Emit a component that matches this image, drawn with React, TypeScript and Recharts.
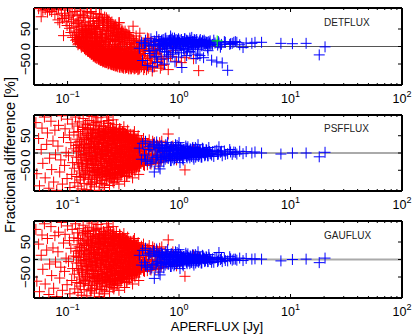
import React from "react";
import { ScatterChart, Scatter, XAxis, YAxis, ReferenceLine } from "recharts";

const redFlux = [
.052,.053,.055,.056,.058,.059,.06,.062,.063,.065,
.066,.068,.069,.071,.072,.074,.075,.077,.078,.08,
.082,.083,.085,.087,.088,.09,.092,.094,.095,.097,
.099,.1,.102,.104,.105,.107,.109,.11,.111,.113,
.114,.115,.116,.118,.119,.12,.121,.122,.123,.124,
.125,.126,.127,.128,.129,.13,.131,.132,.133,.134,
.135,.136,.137,.138,.139,.14,.141,.142,.143,.144,
.145,.146,.147,.148,.149,.15,.151,.152,.153,.154,
.155,.156,.157,.158,.159,.16,.161,.162,.163,.164,
.165,.166,.167,.168,.169,.17,.171,.172,.173,.174,
.175,.176,.177,.178,.179,.18,.182,.183,.184,.185,
.186,.187,.188,.19,.191,.192,.193,.195,.196,.197,
.198,.2,.201,.202,.204,.205,.206,.208,.209,.21,
.212,.213,.215,.216,.218,.219,.22,.222,.224,.225,
.227,.228,.23,.232,.233,.235,.237,.238,.24,.242,
.243,.245,.247,.249,.25,.252,.254,.256,.258,.26,
.262,.264,.266,.268,.27,.272,.274,.276,.278,.28,
.282,.285,.287,.289,.292,.294,.296,.299,.301,.304,
.306,.309,.312,.314,.317,.32,.322,.325,.328,.331,
.334,.337,.34,.343,.346,.349,.352,.356,.359,.362,
.365,.369,.372,.376,.379,.383,.387,.39,.394,.398,
.402,.406,.41,.415,.42,.425,.43,.435,.44,.445,
.45,.46,.47,.48,.49,.5,.51,.52,.535,.55,
.56,.575,.59,.6,.62,.64,.66,.68,.7,.72,
.75,.78,.8,.84,.88,.95,1.05,1.13,1.35,1.5];

const redDet = [
140,125,108,150,85,118,102,130,106,160,
98,122,104,135,100,112,145,92,128,105,
76,110,68,120,95,80,31,88,104,72,
60,108,84,52,90,40,70,96,26,78,
55,32,100,18,66,44,25,88,14,58,
8,36,74,22,48,12,92,30,6,62,
18,40,2,82,26,10,52,-4,34,68,
14,-8,44,24,6,96,-12,30,58,0,
18,-14,38,10,-6,72,26,-18,4,48,
-10,16,-22,34,0,84,-16,8,56,-26,
22,-12,-28,42,2,-20,12,66,-32,-6,
28,-24,-2,-34,14,50,-16,-36,6,-28,
36,-8,-38,-20,18,-40,78,-12,-30,2,
-42,24,-22,-4,-44,10,-34,-14,44,-46,
-26,60,-8,-40,16,-48,-18,-32,0,-44,
30,-24,-50,-12,-38,6,-46,-28,52,-20,
-52,-6,-36,-48,14,-30,-54,-16,34,-42,
-24,-50,-10,68,-38,-56,-28,2,-46,-34,
-18,-58,24,-42,-30,-52,-8,-36,44,-56,
-22,-48,-60,10,-34,-44,-14,-54,30,-38,
-58,-26,-62,-4,-46,-32,58,-52,-18,-42,
-62,-28,-50,16,-36,-56,-8,-44,-64,38,
-24,-52,-34,4,-60,-14,-66,-40,22,-48,
-30,-70,-10,-58,-22,-44,6,-62,-36,-52,
8,-34,-66,-28,-12,-42,-46,-32,-35,-69];

const redPsf = [
88,-60,42,-95,10,72,-30,104,-72,25,
58,-102,-15,92,-48,35,-84,66,-5,-108,
20,80,-55,-20,108,-90,45,-36,70,2,
-74,98,-8,52,-100,30,-62,84,-28,12,
60,-44,-86,104,22,-12,-68,40,78,-96,
4,-34,90,-52,16,-78,52,-6,-104,32,
-20,68,-40,100,8,-64,-88,24,56,-14,
84,-50,-2,38,-106,14,-30,72,-72,46,
-24,94,6,-58,28,-92,60,-10,-42,20,
106,-76,-18,44,2,-52,80,-34,12,-98,
34,-66,64,-6,-26,88,-84,18,-46,50,
-12,102,-56,26,-36,-108,70,4,-70,40,
-20,92,-44,14,-88,54,-4,-62,30,78,
-30,-100,48,8,-52,66,-16,-78,22,104,
-38,10,-64,58,-8,86,-24,-94,36,-48,
74,0,-32,44,-72,16,-56,96,-12,-86,
28,-40,62,-20,-60,6,82,-28,-76,38,
-4,52,-46,-90,20,70,-34,-14,-66,42,
12,-54,60,-22,-38,76,2,-82,30,-10,
48,-44,-68,18,66,-26,-6,-58,36,-16,
54,-34,8,-48,26,-72,44,-12,-30,62,
-52,14,-20,38,-40,4,50,-62,-8,24,
-28,32,-14,42,-36,8,-22,26,-4,18,
-32,12,-18,30,-6,22,-26,4,34,-12,
16,-14,55,-10,20,-20,6,-49,10,4];

const redGau = [
86,-62,44,-92,12,70,-28,102,-70,27,
60,-100,-13,94,-46,33,-82,68,-7,-106,
22,78,-53,-22,106,-88,47,-34,72,4,
-72,96,-6,54,-98,32,-60,86,-26,10,
62,-42,-84,102,24,-10,-66,42,76,-94,
6,-32,88,-50,18,-76,54,-4,-102,34,
-18,70,-38,98,10,-62,-86,26,58,-12,
82,-48,0,40,-104,16,-28,74,-70,48,
-22,92,8,-56,30,-90,62,-8,-40,22,
104,-74,-16,46,4,-50,82,-32,14,-96,
36,-64,66,-4,-24,86,-82,20,-44,52,
-10,100,-54,28,-34,-106,72,6,-68,42,
-18,90,-42,16,-86,56,-2,-60,32,80,
-28,-98,50,10,-50,68,-14,-76,24,102,
-36,12,-62,60,-6,84,-22,-92,38,-46,
76,2,-30,46,-70,18,-54,94,-10,-84,
30,-38,64,-18,-58,8,80,-26,-74,40,
-2,54,-44,-88,22,68,-32,-12,-64,44,
14,-52,62,-20,-36,74,4,-80,32,-8,
50,-42,-66,20,64,-24,-4,-56,38,-14,
52,-32,10,-46,28,-70,46,-10,-28,60,
-50,16,-18,40,-38,6,48,-60,-6,26,
-26,34,-12,44,-34,10,-20,28,-2,20,
-30,14,-16,32,-4,24,-24,6,36,-10,
18,-12,56,-8,22,-18,8,-48,12,6];

const coreFlux = [
.121,.124,.127,.13,.133,.135,.138,.14,.142,.144,
.146,.148,.15,.152,.154,.156,.158,.16,.162,.164,
.165,.167,.169,.171,.173,.175,.176,.178,.18,.181,
.183,.185,.186,.188,.19,.191,.193,.195,.196,.198,
.2,.201,.203,.205,.206,.208,.21,.211,.213,.215,
.216,.218,.22,.221,.223,.225,.226,.228,.23,.232,
.233,.235,.237,.239,.241,.242,.244,.246,.248,.25,
.252,.254,.255,.257,.259,.261,.263,.265,.267,.269,
.271,.273,.275,.277,.279,.281,.283,.285,.287,.29,
.292,.294,.296,.298,.3,.303,.305,.307,.309,.312,
.314,.316,.318,.321,.323,.325,.328,.33,.333,.335,
.338,.34,.343,.345,.348,.35,.353,.355,.358,.36,
.363,.366,.368,.371,.374,.377,.38,.382,.385,.388,
.391,.394,.397,.4,.403,.406,.409,.412,.415,.418,
.421,.425,.428,.431,.434,.438,.441,.445,.448,.452,
.128,.134,.141,.147,.151,.155,.159,.163,.166,.17,
.174,.177,.179,.182,.184,.187,.189,.192,.194,.197,
.199,.202,.204,.207,.209,.212,.214,.217,.219,.222,
.224,.227,.229,.231,.234,.236,.238,.24,.243,.245,
.247,.249,.251,.253,.256,.258,.26,.262,.264,.266,
.268,.27,.272,.274,.276,.278,.28,.282,.284,.286,
.288,.291,.293,.295,.297,.299,.301,.304,.306,.308,
.31,.313,.315,.317,.32,.322,.324,.327,.329,.332,
.334,.337,.339,.342,.344,.347,.349,.352,.354,.357,
.359,.362,.365,.367,.37,.373,.376,.379,.381,.384,
.387,.39,.393,.396,.399,.402,.405,.408,.411,.414,
.417,.42,.423,.427,.43,.433,.436,.44,.443,.447,
.455,.46,.468,.475,.482,.49,.5,.51,.52,.53,
.54,.55,.56,.57,.58,.6,.62,.64,.66,.7,
.125,.13,.135,.14,.145,.15,.155,.16,.165,.17,
.175,.18,.185,.19,.195,.2,.205,.21,.215,.22,
.225,.23,.235,.24,.245,.25,.255,.26,.265,.27,
.275,.28,.285,.29,.295,.3,.31,.32,.33,.34,
.35,.36,.37,.38,.39,.4,.42,.44,.46,.48,
.14,.152,.163,.172,.183,.193,.203,.213,.223,.233,
.243,.253,.263,.273,.283,.293,.305,.315,.325,.335,
.5,.52,.54,.56,.58,.61,.63,.65,.67,.69];

const coreDet = [
20,5,35,12,-2,28,45,8,-6,18,
-10,30,2,-14,50,14,-18,-4,38,-22,
6,-16,60,-26,-6,24,-30,10,-20,42,
-34,-10,2,-28,70,-36,16,-18,-38,-4,
30,-30,-40,-12,54,-24,-42,6,-34,-16,
-44,22,-6,-36,-46,14,-26,76,-40,-10,
-48,0,-30,-18,44,-50,-36,-8,-44,28,
-24,-52,-14,-40,-50,60,-32,-4,-54,-20,
-46,18,-36,-56,-26,-8,-50,36,-42,-16,
-58,-30,-48,-2,-38,-54,-20,48,-60,-44,
-12,-34,-56,-26,-50,24,-40,-62,-18,-46,
-30,-58,-6,-42,-52,-22,-62,40,-36,-48,
-16,-56,-28,-64,-44,12,-34,-52,-24,-60,
-40,-8,-54,-30,-62,-20,-48,30,-38,-58,
-14,-44,-66,-26,-52,-36,4,-60,-20,-46,
10,26,-2,42,16,-12,60,-22,2,-28,
34,-14,-32,8,50,-24,-36,-6,84,-40,
-20,18,-38,-44,-8,62,-30,-46,12,-26,
38,-42,-14,-50,72,-34,-6,-46,20,-28,
-52,-10,56,-38,-22,-54,4,-44,-30,32,
-56,-16,-40,52,-50,-26,-4,-58,-34,14,
-46,68,-22,-60,-38,-8,-52,26,-30,-56,
-18,44,-42,-62,-28,-50,6,-36,-58,-24,
-44,-12,-60,34,-32,-54,-20,-46,-64,18,
-38,-26,-56,-4,-48,-62,-16,-42,-30,-58,
22,-50,-34,-64,-10,-44,-56,-24,-38,8,
-60,-28,-46,-14,-64,-36,-52,18,-22,-42,
-30,-58,-10,-44,-66,-20,-50,4,-34,-62,
-26,-48,12,-36,-60,-16,-44,-6,-30,-54,
70,104,58,88,46,100,64,96,38,80,
56,94,30,72,48,90,26,68,84,42,
60,36,76,22,54,70,32,48,18,62,
40,28,52,14,44,34,8,38,26,16,
30,6,24,-2,18,10,-4,14,6,-10,
84,40,100,52,74,92,34,60,82,46,
66,24,56,38,50,20,42,30,12,36,
2,24,-6,12,-14,6,-20,16,-8,-28];

const corePsf = [
6,-28,34,-12,20,-38,44,-4,28,-46,
12,-22,50,-34,38,2,-52,24,-16,42,
-8,56,-42,18,-30,32,-56,8,46,-20,
26,-48,14,-6,58,-36,40,-60,0,-24,
48,-14,30,-44,10,-54,36,-2,54,-30,
20,-62,4,42,-18,60,-40,28,-10,-50,
16,46,-26,-58,34,-6,56,-36,8,-46,
40,-16,24,-56,62,-28,2,44,-42,14,
-8,52,-34,30,-60,18,-20,48,-48,6,
36,-12,58,-40,22,-54,-2,42,-26,10,
-44,50,-18,32,-58,4,38,-32,16,-50,
54,-6,26,-38,44,-22,12,-52,34,-14,
0,46,-30,20,-48,38,-10,28,-42,8,
-20,36,-36,14,42,-28,4,-44,30,-12,
22,-34,38,-6,-26,18,-38,32,-16,10,
24,-30,-6,40,-44,16,-20,52,-54,34,
2,-36,46,-12,58,-50,26,-62,10,-24,
44,-4,-42,30,62,-16,-58,18,50,-32,
6,-52,38,-22,56,-8,-64,24,-40,48,
12,-28,60,-46,0,34,-18,-56,42,-10,
28,-60,52,-34,14,-4,-48,40,-24,58,
8,-42,22,-14,50,-54,32,-2,-36,46,
18,-26,-50,36,4,54,-40,-8,24,-18,
42,-32,10,-46,30,-12,48,-28,16,-4,
-38,26,6,-22,40,-44,14,-16,34,-30,
20,-8,-34,28,2,-24,36,-14,12,-40,
30,-20,8,-30,22,-6,-26,16,-12,26,
4,-18,28,-10,14,-24,20,-2,-16,24,
-8,18,-20,6,22,-14,10,-4,16,-10,
62,-70,-58,74,-62,82,-76,64,-84,68,
-66,90,-72,60,-88,76,-64,70,-92,62,
-78,86,-60,66,-74,58,-82,72,-66,-56,
64,-70,54,-60,68,-58,62,-52,56,-64,
50,-56,46,-48,52,-44,42,-38,36,-34,
-70,72,-90,84,-64,66,-80,78,-68,94,
-60,68,-72,64,-62,70,-58,60,-66,52,
30,-34,38,-26,34,-30,24,-28,30,-22];

const coreGau = [
8,-26,36,-10,22,-36,46,-2,30,-44,
14,-20,52,-32,40,4,-50,26,-14,44,
-6,58,-40,20,-28,34,-54,10,48,-18,
28,-46,16,-4,60,-34,42,-58,2,-22,
50,-12,32,-42,12,-52,38,0,56,-28,
22,-60,6,44,-16,62,-38,30,-8,-48,
18,48,-24,-56,36,-4,58,-34,10,-44,
42,-14,26,-54,64,-26,4,46,-40,16,
-6,54,-32,32,-58,20,-18,50,-46,8,
38,-10,60,-38,24,-52,0,44,-24,12,
-42,52,-16,34,-56,6,40,-30,18,-48,
56,-4,28,-36,46,-20,14,-50,36,-12,
2,48,-28,22,-46,40,-8,30,-40,10,
-18,38,-34,16,44,-26,6,-42,32,-10,
24,-32,40,-4,-24,20,-36,34,-14,12,
26,-28,-4,42,-42,18,-18,54,-52,36,
4,-34,48,-10,60,-48,28,-60,12,-22,
46,-2,-40,32,64,-14,-56,20,52,-30,
8,-50,40,-20,58,-6,-62,26,-38,50,
14,-26,62,-44,2,36,-16,-54,44,-8,
30,-58,54,-32,16,-2,-46,42,-22,60,
10,-40,24,-12,52,-52,34,0,-34,48,
20,-24,-48,38,6,56,-38,-6,26,-16,
44,-30,12,-44,32,-10,50,-26,18,-2,
-36,28,8,-20,42,-42,16,-14,36,-28,
22,-6,-32,30,4,-22,38,-12,14,-38,
32,-18,10,-28,24,-4,-24,18,-10,28,
6,-16,30,-8,16,-22,22,0,-14,26,
-6,20,-18,8,24,-12,12,-2,18,-8,
60,-68,-56,76,-60,80,-74,66,-82,70,
-64,88,-70,62,-86,74,-62,72,-90,64,
-76,84,-58,68,-72,60,-80,74,-64,-54,
66,-68,56,-58,70,-56,64,-50,58,-62,
52,-54,48,-46,54,-42,44,-36,38,-32,
-68,74,-88,82,-62,68,-78,76,-66,92,
-58,70,-70,66,-60,72,-56,62,-64,54,
32,-32,40,-24,36,-28,26,-26,32,-20];

const blueFlux = [
.44,.46,.47,.49,.5,.52,.53,.55,.56,.58,
.59,.6,.61,.62,.63,.64,.65,.66,.676,.69,
.7,.71,.73,.74,.76,.77,.79,.8,.82,.84,
.85,.87,.89,.9,.92,.94,.96,.98,1.0,1.02,
1.04,1.06,1.08,1.1,1.12,1.15,1.17,1.2,1.22,1.25,
1.27,1.3,1.33,1.36,1.39,1.42,1.45,1.48,1.52,1.55,
1.58,1.62,1.66,1.7,1.75,1.8,1.85,1.96,2.0,2.05,
2.18,2.22,2.28,2.35,2.44,2.55,2.73,2.85,3.0,3.1,
3.3,3.5,3.75,4.0,4.5,4.8,5.5,8.2,10.4,13.8,
18.1,20.4,
.66,.68,.7,.72,.74,.75,.77,.78,.8,.81,
.83,.85,.86,.88,.9,.91,.93,.95,.97,.99,
1.01,1.03,1.05,1.07,1.09,1.11,1.13,1.16,1.18,1.21,
1.23,1.26,1.28,1.31,1.34,1.37,1.4,1.43,1.46,1.5,
1.53,1.57,1.6,1.64,1.68,1.72,1.77,1.82,1.88,1.93,
.5,.54,.57,.6,.63,.67,.69,.72,.75,.78,
.82,.84,.87,.89,.92,.94,.97,.99,1.02,1.05,
1.08,1.1,1.14,1.17,1.19,1.22,1.25,1.29,1.32,1.35,
1.38,1.41,1.44,1.47,1.51,1.54,1.59,1.63,1.67,1.71,
1.76,1.81,1.86,1.9,2.1,2.25,2.4,2.6,2.9,3.2];

const blueDet = [
-5,12,-40,8,18,-54,2,-20,22,-58,
6,-30,14,-12,28,-46,4,20,-8,-36,
16,-2,10,-50,24,-16,6,-30,12,30,
2,-22,16,8,-44,20,-4,12,-10,18,
6,-60,14,-6,22,10,-26,16,4,-14,
12,26,-2,8,18,-34,14,-8,10,20,
4,16,-32,8,12,-4,14,-39,6,18,
-44,4,10,-2,-47,14,-68,6,9,12,
12,5,-3,10,9,12,12,9,8,9,
-24,-1,
14,2,18,8,-14,22,6,12,-24,16,
4,20,10,-18,14,24,-6,8,18,-30,
12,2,20,6,14,-10,22,8,16,0,
10,18,-16,6,14,20,4,12,-22,8,
16,10,2,14,18,6,12,-12,10,4,
10,-12,4,16,-28,8,14,20,2,-6,
18,10,24,-2,12,6,16,22,8,-18,
14,4,10,18,-8,12,24,6,14,-4,
16,8,20,2,12,-26,10,16,6,14,
8,12,4,16,10,14,6,12,8,14];

const bluePsf = [
14,-18,28,-6,34,-24,10,-30,20,-12,
26,-55,6,-20,32,-8,16,-38,-46,22,
-14,12,-26,4,24,-10,30,-16,8,-22,
18,-6,14,-20,10,-12,22,-4,30,-28,
-8,12,-16,6,-2,20,-10,18,4,-14,
10,-6,16,-18,2,12,-8,24,-4,8,
-12,14,2,-8,10,-2,16,-6,4,-10,
8,-4,18,2,-8,6,-2,10,-4,3,
-3,5,-2,4,0,3,0,-3,0,0,
-11,2,
12,-14,20,-6,8,-18,14,-2,16,-10,
6,-22,18,-4,10,-16,24,-8,2,12,
-12,16,-4,8,-20,10,0,14,-14,4,
-8,12,-6,10,-12,2,16,-4,6,-10,
8,-2,-12,12,2,-6,8,-8,4,-2,
-20,18,-26,24,-12,14,-18,6,-10,16,
-6,12,-14,8,-2,14,-10,18,-4,6,
-12,10,2,-8,12,-4,6,-10,14,-2,
8,-12,4,10,-6,2,-10,8,0,-4,
6,-8,4,-2,6,-3,5,-4,3,2];

const blueGau = [
12,-16,26,-8,32,-22,12,-28,18,-14,
24,-54,8,-18,30,-6,14,-36,-44,20,
-12,14,-24,2,22,-8,28,-14,6,-20,
16,-4,12,-18,8,-10,20,-6,28,-26,
-6,10,-14,8,0,18,-8,16,2,-12,
8,-4,14,-16,4,10,-6,22,-2,6,
-10,12,4,-6,8,0,14,-8,2,-8,
6,-6,20,0,-6,4,-4,8,-2,1,
-2,4,-3,3,1,2,1,-4,0,1,
-9,4,
10,-12,18,-8,6,-16,12,0,14,-12,
8,-20,16,-6,12,-14,22,-6,4,10,
-10,14,-2,6,-18,8,2,12,-12,6,
-6,10,-8,8,-10,4,14,-2,4,-8,
6,0,-10,10,4,-4,6,-6,2,0,
-18,16,-24,22,-10,12,-16,8,-8,14,
-4,10,-12,6,0,12,-8,16,-2,4,
-10,8,4,-6,10,-2,4,-8,12,0,
6,-10,2,8,-4,4,-8,6,2,-2,
4,-6,6,0,4,-2,3,-3,2,1];

const greenFlux = [2.2];
const greenDet = [16];

const panelNames = ["DETFLUX", "PSFFLUX", "GAUFLUX"];
const xMajor = [0.1, 1, 10, 100];
const xTicks = [0.06, 0.07, 0.08, 0.09, 0.1, 0.2, 0.3, 0.4, 0.5, 0.6, 0.7, 0.8, 0.9, 1, 2, 3, 4, 5, 6, 7, 8, 9, 10, 20, 30, 40, 50, 60, 70, 80, 90, 100];
const xLabels = ["\u22121", "0", "1", "2"];
const yTicks = [-50, 0, 50];
const FONT = "'Liberation Sans', Arial, sans-serif";

const rows = (xs: number[], ys: number[]) => xs.map((x, i) => ({ x, y: ys[i] }));

const Plus = (color: string) => (p: any) => {
  const { cx, cy } = p;
  if (cx == null || cy == null) return <g />;
  return <path d={`M${cx - 5.5} ${cy}H${cx + 5.5}M${cx} ${cy - 5.5}V${cy + 5.5}`} stroke={color} strokeWidth={1} fill="none" />;
};

const BottomTick = (p: any) => {
  const { x, y, payload } = p;
  const i = xMajor.indexOf(payload.value);
  const len = i >= 0 ? 4 : 2;
  return (
    <g>
      <line x1={x} x2={x} y1={y} y2={y - len} stroke="#000" strokeWidth={1} />
      {i >= 0 && (
        <text x={x} y={y + 18} textAnchor="middle" fontFamily={FONT} fontSize={12.5} fill="#000">
          10<tspan dy={-6} fontSize={9}>{xLabels[i]}</tspan>
        </text>
      )}
    </g>
  );
};

const TopTick = (p: any) => {
  const { x, y, payload } = p;
  const len = xMajor.includes(payload.value) ? 4 : 2;
  return <line x1={x} x2={x} y1={y} y2={y + len} stroke="#000" strokeWidth={1} />;
};

const LeftTick = (p: any) => {
  const { x, y, payload } = p;
  const v = payload.value;
  const tx = x - 4;
  return (
    <g>
      <line x1={x} x2={x + 4} y1={y} y2={y} stroke="#000" strokeWidth={1} />
      <text x={tx} y={y} transform={`rotate(-90 ${tx} ${y})`} textAnchor="middle" fontFamily={FONT} fontSize={13} fill="#000">
        {v < 0 ? `\u2212${-v}` : v}
      </text>
    </g>
  );
};

const RightTick = (p: any) => {
  const { x, y } = p;
  return <line x1={x} x2={x - 4} y1={y} y2={y} stroke="#000" strokeWidth={1} />;
};

type PanelProps = { top: number; bottom: number; red: number[]; core: number[]; blue: number[]; zero: string; zeroW: number; showGreen?: boolean };

const Panel = ({ top, bottom, red, core, blue, zero, zeroW, showGreen }: PanelProps) => (
  <div style={{ position: "absolute", left: 0, top: 0 }}>
    <ScatterChart width={415} height={336} margin={{ top: top - 5, right: 8, bottom: 336 - bottom - 30, left: 4 }}>
      <XAxis xAxisId="b" dataKey="x" type="number" scale="log" domain={[0.05, 100]} ticks={xTicks} interval={0} allowDataOverflow orientation="bottom" height={30} tickSize={0} tickMargin={0} tickLine={false} axisLine={{ stroke: "#000", strokeWidth: 2 }} tick={BottomTick} />
      <XAxis xAxisId="t" dataKey="x" type="number" scale="log" domain={[0.05, 100]} ticks={xTicks} interval={0} allowDataOverflow orientation="top" height={5} tickSize={0} tickMargin={0} tickLine={false} axisLine={{ stroke: "#000", strokeWidth: 2 }} tick={TopTick} />
      <YAxis yAxisId="l" dataKey="y" type="number" domain={[-110, 110]} ticks={yTicks} interval={0} allowDataOverflow orientation="left" width={30} tickSize={0} tickMargin={0} tickLine={false} axisLine={{ stroke: "#000", strokeWidth: 2 }} tick={LeftTick} />
      <YAxis yAxisId="r" dataKey="y" type="number" domain={[-110, 110]} ticks={yTicks} interval={0} allowDataOverflow orientation="right" width={5} tickSize={0} tickMargin={0} tickLine={false} axisLine={{ stroke: "#000", strokeWidth: 2 }} tick={RightTick} />
      <ReferenceLine xAxisId="b" yAxisId="l" y={0} stroke={zero} strokeWidth={zeroW} />
      <Scatter xAxisId="b" yAxisId="l" data={rows(redFlux, red)} shape={Plus("#ff0000")} isAnimationActive={false} />
      <Scatter xAxisId="b" yAxisId="l" data={rows(coreFlux, core)} shape={Plus("#ff0000")} isAnimationActive={false} />
      <Scatter xAxisId="b" yAxisId="l" data={rows(blueFlux, blue)} shape={Plus("#0000ff")} isAnimationActive={false} />
      {showGreen && <Scatter xAxisId="b" yAxisId="l" data={rows(greenFlux, greenDet)} shape={Plus("#00ff00")} isAnimationActive={false} />}
    </ScatterChart>
  </div>
);

export default function App() {
  return (
    <div style={{ position: "absolute", left: 0, top: 0, width: 415, height: 336, overflow: "hidden", background: "#fff" }}>
      <Panel top={8} bottom={85} red={redDet} core={coreDet} blue={blueDet} zero="#555555" zeroW={1} showGreen />
      <Panel top={115} bottom={191} red={redPsf} core={corePsf} blue={bluePsf} zero="#aaaaaa" zeroW={2} />
      <Panel top={221} bottom={298} red={redGau} core={coreGau} blue={blueGau} zero="#aaaaaa" zeroW={2} />
      <svg width={415} height={336} style={{ position: "absolute", left: 0, top: 0 }}>
        <g fontFamily={FONT} fill="#222">
          <text x={324} y={26} fontSize={10}>{panelNames[0]}</text>
          <text x={324} y={132} fontSize={10}>{panelNames[1]}</text>
          <text x={324} y={239} fontSize={10}>{panelNames[2]}</text>
        </g>
        <g fontFamily={FONT} fill="#000">
          <text x={217} y={331} fontSize={13} textAnchor="middle">APERFLUX [Jy]</text>
          <text x={15} y={155} fontSize={14.5} textAnchor="middle" transform="rotate(-90 15 155)">Fractional difference [%]</text>
        </g>
      </svg>
    </div>
  );
}
